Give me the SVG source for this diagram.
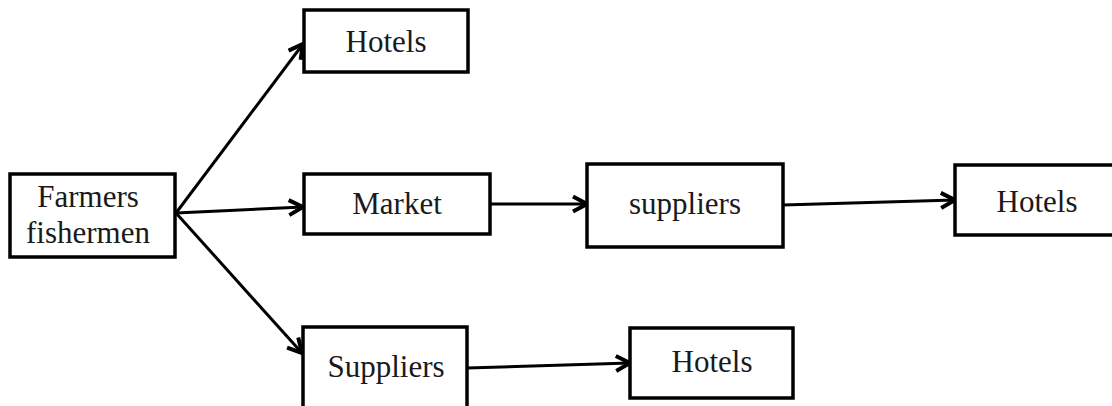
<svg xmlns="http://www.w3.org/2000/svg" width="1112" height="406" viewBox="0 0 1112 406">
<defs>
<style>
.box{fill:#fff;stroke:#000;stroke-width:3.5}
.lbl{font-family:"Liberation Serif","Times New Roman",serif;font-size:31px;fill:#1a1a1a;text-anchor:middle}
.edge{stroke:#000;stroke-width:3;fill:none;marker-end:url(#arr)}
</style>
<marker id="arr" markerUnits="userSpaceOnUse" markerWidth="22" markerHeight="22" viewBox="0 0 22 22" refX="19" refY="11" orient="auto">
<path d="M5,3.5 L19,11 L5,18.5" fill="none" stroke="#000" stroke-width="4" stroke-linejoin="miter"/>
</marker>
</defs>
<rect width="1112" height="406" fill="#fff"/>
<g id="connectors">
<line class="edge" x1="176" y1="213" x2="303" y2="44"/>
<line class="edge" x1="176" y1="213" x2="303" y2="207"/>
<line class="edge" x1="176" y1="213" x2="302" y2="353"/>
<line class="edge" x1="490" y1="204" x2="587" y2="204"/>
<line class="edge" x1="783" y1="205" x2="955" y2="200"/>
<line class="edge" x1="467" y1="368" x2="630" y2="363"/>
</g>
<g id="farmers">
<rect class="box" x="10" y="174" width="165" height="83"/>
<text class="lbl" x="88" y="207">Farmers</text>
<text class="lbl" x="88" y="243">fishermen</text>
</g>
<g id="hotels-top">
<rect class="box" x="304" y="10" width="164" height="62"/>
<text class="lbl" x="386" y="52">Hotels</text>
</g>
<g id="market">
<rect class="box" x="304" y="174" width="186" height="60"/>
<text class="lbl" x="397" y="214">Market</text>
</g>
<g id="suppliers-mid">
<rect class="box" x="587" y="164" width="196" height="83"/>
<text class="lbl" x="685" y="214">suppliers</text>
</g>
<g id="hotels-right">
<rect class="box" x="955" y="165" width="170" height="70"/>
<text class="lbl" x="1037" y="212">Hotels</text>
</g>
<g id="suppliers-bottom">
<rect class="box" x="303" y="327" width="164" height="100"/>
<text class="lbl" x="386" y="377">Suppliers</text>
</g>
<g id="hotels-bottom">
<rect class="box" x="630" y="328" width="163" height="70"/>
<text class="lbl" x="712" y="372">Hotels</text>
</g>
</svg>
